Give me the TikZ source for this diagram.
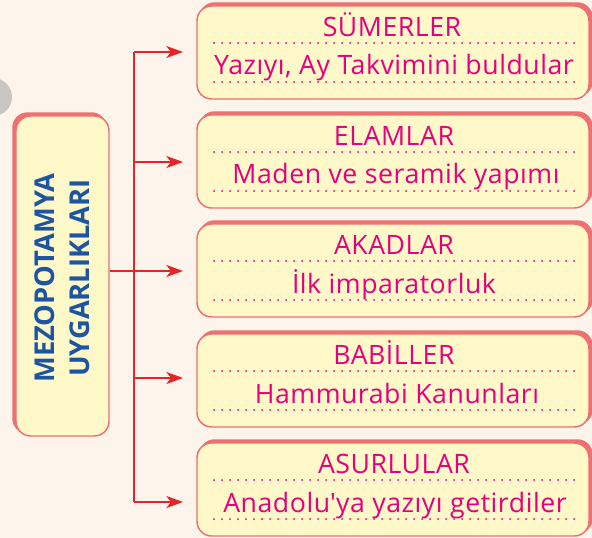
\documentclass[tikz,border=0pt]{standalone}
\usepackage{fontspec}
\setmainfont{Open Sans}
\newfontfamily\civfont{Open Sans}[LetterSpace=2]
\usetikzlibrary{arrows.meta}

\definecolor{bgcream}{RGB}{253,244,236}
\definecolor{boxfill}{RGB}{255,248,200}
\definecolor{boxline}{RGB}{238,112,112}
\definecolor{civmagenta}{RGB}{230,0,126}
\definecolor{linkred}{RGB}{232,36,40}
\definecolor{titleblue}{RGB}{30,85,160}
\definecolor{blobgray}{RGB}{200,197,194}

\newcommand{\straightquote}{\XeTeXglyph\the\XeTeXcharglyph"0027\relax}

\tikzset{every picture/.style={line width=0.75pt}}
\tikzset{
	civbox/.style={draw=boxline, fill=boxfill, line width=1.1pt, rounded corners=11pt, minimum width=294pt, minimum height=69.75pt, inner sep=0pt},
	civshadow/.style={civbox, fill=boxline},
	mezobox/.style={civbox, minimum width=69.75pt, minimum height=240pt},
	mezoshadow/.style={mezobox, fill=boxline},
	civtitle/.style={anchor=base, inner sep=0.75pt, text=civmagenta, font=\civfont\fontsize{20}{22}\selectfont},
	civtext/.style={civtitle},
	dotline/.style={draw=civmagenta, line width=1.5pt, dash pattern=on 0pt off 6pt, line cap=round},
	link/.style={draw=linkred, line width=1.1pt},
	arr/.style={link, -{Stealth[length=12.5pt, width=9pt, inset=3.5pt]}}
}

\begin{document}
\begin{tikzpicture}[x=0.75pt,y=0.75pt,yscale=-1,xscale=1]
		\clip (0,0) rectangle (592,538);
		\fill[bgcream] (0,0) rectangle (592,538);
		%gray blob on the left edge
		\fill[blobgray] (-7,97) circle (19);
		
		%left box
		\node[mezoshadow] (mezo s) at (59.5,273) {};
		\node[mezobox] (mezo) at (62.5,276) {};
		\node[rotate=90, align=center, text=titleblue, font=\bfseries\fontsize{20.5}{26}\selectfont] (mezo title) at (62.5,278) {MEZOPOTAMYA\\UYGARLIKLARI};
		
		%right boxes
		\node[civshadow] (sumer s) at (396,49.5) {};
		\node[civbox] (sumer) at (393,52.5) {};
		\node[civshadow] (elam s) at (396,158.5) {};
		\node[civbox] (elam) at (393,161.5) {};
		\node[civshadow] (akad s) at (396,267.5) {};
		\node[civbox] (akad) at (393,270.5) {};
		\node[civshadow] (babil s) at (396,377.5) {};
		\node[civbox] (babil) at (393,380.5) {};
		\node[civshadow] (asur s) at (396,486.5) {};
		\node[civbox] (asur) at (393,489.5) {};
		
		%dotted lines
		\draw[dotline] (214,43) -- (574,43) ;
		\draw[dotline] (214,82) -- (574,82) ;
		\draw[dotline] (214,152) -- (574,152) ;
		\draw[dotline] (214,191) -- (574,191) ;
		\draw[dotline] (214,261) -- (574,261) ;
		\draw[dotline] (214,300) -- (574,300) ;
		\draw[dotline] (214,371) -- (574,371) ;
		\draw[dotline] (214,410) -- (574,410) ;
		\draw[dotline] (214,480) -- (574,480) ;
		\draw[dotline] (214,519) -- (574,519) ;
		
		%texts
		\node[civtitle] (sumer title) at (392,36.5) {SÜMERLER};
		\node[civtext] (sumer text) at (394,75) {Yazıyı, Ay Takvimini buldular};
		\node[civtitle] (elam title) at (394,145.5) {ELAMLAR};
		\node[civtext] (elam text) at (396,184) {Maden ve seramik yapımı};
		\node[civtitle] (akad title) at (394,254.5) {AKADLAR};
		\node[civtext] (akad text) at (394,293) {İlk imparatorluk};
		\node[civtitle] (babil title) at (394,364.5) {BABİLLER};
		\node[civtext] (babil text) at (397,403) {Hammurabi Kanunları};
		\node[civtitle] (asur title) at (394,473.5) {ASURLULAR};
		\node[civtext] (asur text) at (395,512) {Anadolu\straightquote ya yazıyı getirdiler};
		
		%connectors
		\coordinate (fork) at (134,271);
		\coordinate (fork top) at (134,52);
		\coordinate (fork bot) at (134,502);
		\coordinate (tip sumer) at (183,52);
		\coordinate (tip elam) at (183,162);
		\coordinate (tip akad) at (183,271);
		\coordinate (tip babil) at (183,378);
		\coordinate (tip asur) at (183,502);
		\draw[link] (fork -| mezo.east) -- (fork) ;
		\draw[link] (fork top) -- (fork bot) ;
		\draw[arr] (fork top) -- (tip sumer) ;
		\draw[arr] (fork |- tip elam) -- (tip elam) ;
		\draw[arr] (fork) -- (tip akad) ;
		\draw[arr] (fork |- tip babil) -- (tip babil) ;
		\draw[arr] (fork bot) -- (tip asur) ;
		
	\end{tikzpicture}
\end{document}
